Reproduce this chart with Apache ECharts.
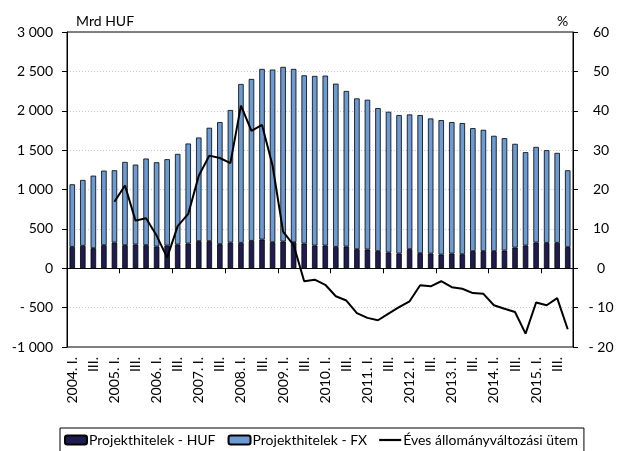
<!DOCTYPE html>
<html>
<head>
<meta charset="utf-8">
<script src="https://cdn.jsdelivr.net/npm/echarts@6/dist/echarts.min.js"></script>
<style>
	html, body { margin: 0; padding: 0; background: #fff; }
	#chart { width: 617px; height: 451px; }
</style>
</head>
<body>
<div id="chart"></div>
<script>
const years = [2004, 2005, 2006, 2007, 2008, 2009, 2010, 2011, 2012, 2013, 2014, 2015];
const quarters = ['I.', 'II.', 'III.', 'IV.'];

// Mrd HUF, quarterly
const hufLoans = [272, 285, 255, 293, 327, 293, 302, 293, 276, 289, 302, 314, 344, 344, 306, 327,
	323, 348, 365, 331, 340, 331, 314, 289, 289, 272, 276, 242, 238, 217, 200, 187,
	242, 191, 187, 174, 187, 178, 217, 217, 217, 225, 263, 289, 327, 323, 323, 268];
const fxLoans = [794, 836, 921, 947, 917, 1057, 1014, 1100, 1070, 1096, 1150, 1270, 1316, 1440, 1550, 1682,
	2017, 2056, 2166, 2192, 2217, 2200, 2136, 2153, 2157, 2072, 1975, 1915, 1902, 1817, 1787, 1758,
	1711, 1754, 1715, 1707, 1669, 1665, 1562, 1541, 1465, 1427, 1317, 1185, 1214, 1176, 1142, 976];
// %, annual change
const growth = [null, null, null, null, 16.9, 21.0, 12.1, 12.7, 8.3, 2.7, 10.7, 13.8, 23.5, 28.6, 28.0, 26.7,
	41.3, 34.9, 36.4, 26.1, 9.3, 5.9, -3.3, -2.9, -4.2, -7.1, -8.2, -11.4, -12.6, -13.2, -11.5, -9.9,
	-8.4, -4.3, -4.6, -3.3, -4.8, -5.2, -6.3, -6.5, -9.4, -10.3, -11.1, -16.6, -8.7, -9.4, -7.6, -15.5];

const categories = [];
years.forEach(y => quarters.forEach((q, i) => categories.push(i === 0 ? y + '. ' + q : q)));

const font = 'Lato';

function fmtLeft(v) {
	const a = Math.abs(v);
	const s = a >= 1000 ? Math.floor(a / 1000) + ' ' + String(a % 1000).padStart(3, '0') : String(a);
	if (v < 0) return (a >= 1000 ? '-' : '- ') + s;
	return s;
}

function fmtRight(v) {
	return v < 0 ? '- ' + Math.abs(v) : String(v);
}

const chart = echarts.init(document.getElementById('chart'));

chart.setOption({
	animation: false,
	textStyle: { fontFamily: font, color: '#000' },
	title: [
		{ text: 'Mrd HUF', left: 71, top: 9, textStyle: { fontFamily: font, fontSize: 14, fontWeight: 'normal', color: '#000' } },
		{ text: '%', left: 552, top: 9, textStyle: { fontFamily: font, fontSize: 14, fontWeight: 'normal', color: '#000' } }
	],
	grid: {
		left: 67, right: 44, top: 32, bottom: 104,
		show: true, borderColor: '#000', borderWidth: 1, backgroundColor: 'transparent'
	},
	legend: {
		left: 60, bottom: -4,
		padding: [5, 6, 8, 4],
		borderColor: '#000', borderWidth: 1,
		itemWidth: 22, itemHeight: 9, itemGap: 12,
		textStyle: { fontFamily: font, fontSize: 14, color: '#000', padding: [0, 0, 0, -3] },
		data: [
			'Projekthitelek - HUF',
			'Projekthitelek - FX',
			{ name: 'Éves állományváltozási ütem', icon: 'path://M0,0 L20,0 L20,2 L0,2 Z' }
		]
	},
	xAxis: [
		{
			type: 'category', data: categories, position: 'bottom',
			axisLine: { show: false, onZero: false },
			axisTick: { show: false },
			axisLabel: { interval: 1, rotate: 90, margin: 10, fontSize: 14, fontFamily: font, color: '#000' }
		},
		{
			type: 'category', data: categories, position: 'bottom',
			axisLine: { onZero: true, onZeroAxisIndex: 0, lineStyle: { color: '#000', width: 1 } },
			axisTick: { show: true, length: 5, lineStyle: { color: '#000' } },
			axisLabel: { show: false }
		}
	],
	yAxis: [
		{
			type: 'value', min: -1000, max: 3000, interval: 500,
			axisLine: { show: true, lineStyle: { color: '#000' } },
			axisTick: { show: true, length: 5, lineStyle: { color: '#000' } },
			axisLabel: { margin: 14, fontSize: 14, fontFamily: font, color: '#000', formatter: fmtLeft },
			splitLine: { show: true, showMinLine: false, showMaxLine: false, lineStyle: { color: '#c8c8c8', type: [1, 2] } }
		},
		{
			type: 'value', min: -20, max: 60, interval: 10, position: 'right',
			axisLine: { show: true, lineStyle: { color: '#000' } },
			axisTick: { show: true, length: 5, lineStyle: { color: '#000' } },
			axisLabel: { margin: 28, align: 'center', fontSize: 14, fontFamily: font, color: '#000', formatter: fmtRight },
			splitLine: { show: false }
		}
	],
	series: [
		{
			name: 'Projekthitelek - HUF', type: 'bar', stack: 'loans', data: hufLoans,
			barWidth: '52%',
			itemStyle: { color: '#1e1c50', borderColor: '#000', borderWidth: 0.8 }
		},
		{
			name: 'Projekthitelek - FX', type: 'bar', stack: 'loans', data: fxLoans,
			barWidth: '52%',
			itemStyle: { color: '#6b9bd2', borderColor: '#000', borderWidth: 0.8 }
		},
		{
			name: 'Éves állományváltozási ütem', type: 'line', yAxisIndex: 1, data: growth,
			symbol: 'none', connectNulls: false,
			lineStyle: { color: '#000', width: 2 },
			itemStyle: { color: '#000' },
			z: 5
		}
	]
});
</script>
</body>
</html>
